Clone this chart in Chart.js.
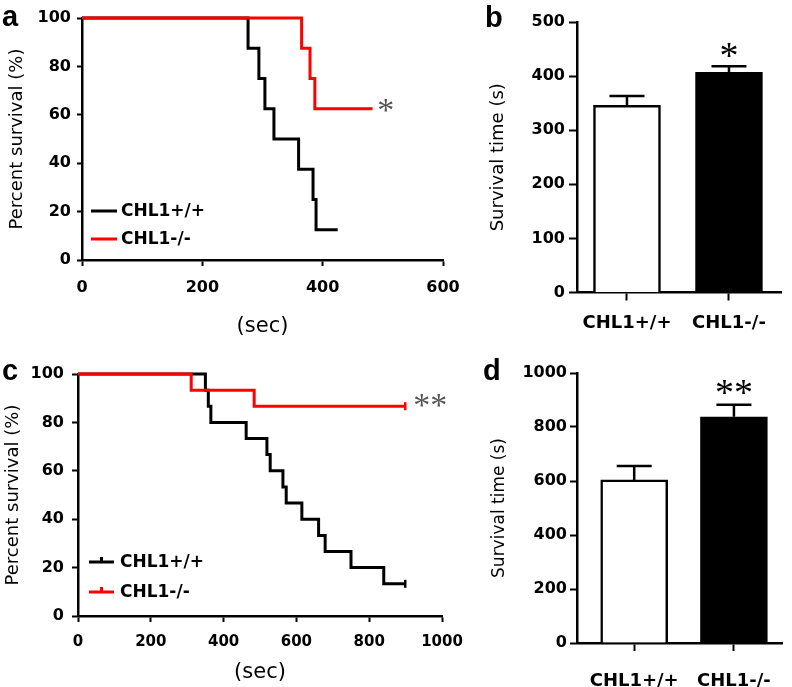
<!DOCTYPE html>
<html>
<head>
<meta charset="utf-8">
<script src="https://cdn.jsdelivr.net/npm/chart.js@4/dist/chart.umd.min.js"></script>
<style>
  body { margin: 0; background: #fff; }
  #wrap { position: relative; width: 792px; height: 687px; }
  .panel { position: absolute; }
</style>
</head>
<body>
<div id="wrap">
  <div class="panel" style="left:0;top:0;width:480px;height:340px"><canvas id="panelA"></canvas></div>
  <div class="panel" style="left:480px;top:0;width:312px;height:340px"><canvas id="panelB"></canvas></div>
  <div class="panel" style="left:0;top:340px;width:480px;height:347px"><canvas id="panelC"></canvas></div>
  <div class="panel" style="left:480px;top:340px;width:312px;height:347px"><canvas id="panelD"></canvas></div>
</div>
<script>
// panel a - survival curves
var aWtTimes = [0, 276, 294, 304, 319, 360, 384, 389, 425];
var aWtSurv = [100, 87.5, 75, 62.5, 50, 37.5, 25, 12.5, 12.5];
var aKoTimes = [0, 365, 379, 387, 483];
var aKoSurv = [100, 87.5, 75, 62.5, 62.5];
var aXTicks = [0, 200, 400, 600];

// panel c - survival curves
var cWtTimes = [0, 350, 358, 365, 462, 519, 528, 563, 572, 615, 661, 679, 750, 840, 899];
var cWtSurv = [100, 93.3, 86.7, 80, 73.3, 66.7, 60, 53.3, 46.7, 40, 33.3, 26.7, 20, 13.3, 13.3];
var cKoTimes = [0, 311, 484, 899];
var cKoSurv = [100, 93.3, 86.7, 86.7];
var cXTicks = [0, 200, 400, 600, 800, 1000];

var survTicks = [0, 20, 40, 60, 80, 100];

// panels b and d - mean survival time
var groups = ["CHL1+/+", "CHL1-/-"];
var bMean = [346, 407];
var bErr = [17, 11];
var bTicks = [0, 100, 200, 300, 400, 500];
var dMean = [604, 838];
var dErr = [52, 44];
var dTicks = [0, 200, 400, 600, 800, 1000];

var RED = "#ff0000";
var FONT = "DejaVu Sans";

function toXY(xs, ys) {
    return xs.map((x, i) => ({ x: x, y: ys[i] }));
}

function tickList(list) {
    return function (scale) {
        scale.ticks = list.map(v => ({ value: v }));
    };
}

// letters, stars, legend and error bars drawn on top
var extras = {
    id: "extras",
    afterDraw(chart, args, o) {
        var c = chart.ctx;
        c.save();
        c.fillStyle = "#000";
        c.textAlign = "left";
        c.textBaseline = "alphabetic";
        c.font = "bold 29px 'Liberation Sans'";
        c.fillText(o.letter, o.letterX, o.letterY);

        var xs = chart.scales.x, ys = chart.scales.y;

        if (o.errors) {
            c.strokeStyle = "#000";
            c.lineWidth = 2.5;
            o.errors.mean.forEach((m, i) => {
                var px = xs.getPixelForValue(i + 1);
                var top = ys.getPixelForValue(m);
                var e = ys.getPixelForValue(m + o.errors.err[i]);
                c.beginPath();
                c.moveTo(px, top);
                c.lineTo(px, e);
                c.moveTo(px - 17.5, e);
                c.lineTo(px + 17.5, e);
                c.stroke();
            });
        }

        if (o.legend) {
            o.legend.items.forEach((it, i) => {
                var y = o.legend.y[i];
                c.strokeStyle = it.color;
                c.lineWidth = 3;
                c.beginPath();
                c.moveTo(o.legend.x0, y);
                c.lineTo(o.legend.x1, y);
                if (o.legend.tick) {
                    var mid = (o.legend.x0 + o.legend.x1) / 2;
                    c.moveTo(mid, y);
                    c.lineTo(mid, y - 5);
                }
                c.stroke();
                c.fillStyle = "#000";
                c.font = "bold 17px '" + FONT + "'";
                c.textBaseline = "middle";
                c.fillText(it.label, o.legend.tx, y + 1);
            });
        }

        if (o.stars) {
            var s = o.stars;
            c.fillStyle = s.color;
            c.font = s.size + "px 'Liberation Serif'";
            c.textAlign = "center";
            c.textBaseline = "alphabetic";
            var m = c.measureText(s.text);
            var cx = xs.getPixelForValue(s.x);
            var cy = ys.getPixelForValue(s.y);
            c.fillText(s.text, cx, cy + (m.actualBoundingBoxAscent - m.actualBoundingBoxDescent) / 2);
        }
        c.restore();
    }
};

function axisStyle(tickLen, font, pad) {
    return {
        ticks: { color: "#000", font: font, padding: pad, autoSkip: false, maxRotation: 0, callback: v => String(v) },
        grid: { drawOnChartArea: false, drawTicks: true, tickLength: tickLen, tickWidth: 2, tickColor: "#000", offset: false },
        border: { color: "#000", width: 2.5 }
    };
}

function kmChart(id, o) {
    var x = axisStyle(6, { family: FONT, weight: "bold", size: o.xFont }, o.xPad);
    x.type = "linear";
    x.min = 0;
    x.max = o.xTicks[o.xTicks.length - 1];
    x.afterBuildTicks = tickList(o.xTicks);
    x.title = { display: true, text: "(sec)", color: "#000", font: { family: FONT, size: 21 }, padding: { top: 0, bottom: o.secPad } };
    x.afterFit = s => { s.height = o.xHeight; };

    var y = axisStyle(o.yTick, { family: FONT, weight: "bold", size: o.yFont }, o.yPad);
    y.min = 0;
    y.max = 100;
    y.afterBuildTicks = tickList(survTicks);
    y.title = { display: true, text: "Percent survival (%)", color: "#000", font: { family: FONT, size: 18 }, padding: { top: o.titlePad, bottom: 0 } };
    y.afterFit = s => { s.width = o.yWidth; };

    var lineDs = (xs, ys, col) => ({
        data: toXY(xs, ys),
        borderColor: col,
        borderWidth: 3,
        stepped: "before",
        fill: false,
        clip: false,
        pointStyle: "line",
        rotation: 90,
        pointBorderColor: col,
        pointBorderWidth: 2.5,
        pointRadius: c => (o.censor && c.dataIndex === xs.length - 1) ? 4 : 0
    });

    return new Chart(document.getElementById(id), {
        type: "line",
        data: {
            datasets: [
                lineDs(o.koT, o.koS, RED),
                lineDs(o.wtT, o.wtS, "#000")
            ]
        },
        options: {
            animation: false,
            responsive: true,
            maintainAspectRatio: false,
            layout: { padding: { top: o.top, right: o.right, left: 0, bottom: 0 } },
            scales: { x: x, y: y },
            plugins: {
                legend: { display: false },
                tooltip: { enabled: false },
                extras: o.extras
            }
        },
        plugins: [extras]
    });
}

function barChart(id, o) {
    var x = axisStyle(8, { family: FONT, weight: "bold", size: 18 }, o.xPad);
    x.type = "linear";
    x.offset = false;
    x.min = o.xMin;
    x.max = o.xMax;
    x.afterBuildTicks = tickList([1, 2]);
    x.ticks.callback = v => groups[v - 1];
    x.afterFit = s => { s.height = o.xHeight; };

    var y = axisStyle(o.yTick, { family: FONT, weight: "bold", size: 16 }, o.yPad);
    y.min = 0;
    y.max = o.yTicks[o.yTicks.length - 1];
    y.afterBuildTicks = tickList(o.yTicks);
    y.title = { display: true, text: "Survival time (s)", color: "#000", font: { family: FONT, size: o.titleSize }, padding: { top: o.titlePad, bottom: 0 } };
    y.afterFit = s => { s.width = 97; };

    return new Chart(document.getElementById(id), {
        type: "bar",
        data: {
            datasets: [{
                data: o.mean.map((v, i) => ({ x: i + 1, y: v })),
                backgroundColor: ["#ffffff", "#000000"],
                borderColor: "#000",
                borderWidth: 2.5,
                borderSkipped: "bottom",
                barThickness: 67
            }]
        },
        options: {
            animation: false,
            responsive: true,
            maintainAspectRatio: false,
            layout: { padding: { top: o.top, right: o.right, left: 0, bottom: 0 } },
            scales: { x: x, y: y },
            plugins: {
                legend: { display: false },
                tooltip: { enabled: false },
                extras: o.extras
            }
        },
        plugins: [extras]
    });
}

var kmLegend = [{ label: "CHL1+/+", color: "#000" }, { label: "CHL1-/-", color: RED }];

kmChart("panelA", {
    wtT: aWtTimes, wtS: aWtSurv, koT: aKoTimes, koS: aKoSurv,
    xTicks: aXTicks, xFont: 16, xPad: 12, xHeight: 80, secPad: 1,
    yFont: 16, yTick: 5, yPad: 6, yWidth: 82, titlePad: 7,
    top: 18, right: 37, censor: false,
    extras: {
        letter: "a", letterX: 2, letterY: 26,
        legend: { items: kmLegend, y: [211, 239], x0: 91, x1: 117, tx: 121, tick: false },
        stars: { text: "*", x: 505, y: 64, size: 34, color: "#555" }
    }
});

kmChart("panelC", {
    wtT: cWtTimes, wtS: cWtSurv, koT: cKoTimes, koS: cKoSurv,
    xTicks: cXTicks, xFont: 15, xPad: 11, xHeight: 71, secPad: 2,
    yFont: 16, yTick: 6, yPad: 8, yWidth: 78, titlePad: 3,
    top: 34, right: 38, censor: true,
    extras: {
        letter: "c", letterX: 2, letterY: 40,
        legend: { items: kmLegend, y: [222, 252], x0: 89, x1: 114, tx: 120, tick: true },
        stars: { text: "**", x: 968, y: 89, size: 34, color: "#555" }
    }
});

barChart("panelB", {
    mean: bMean, yTicks: bTicks, xMin: 0.51, xMax: 2.51,
    xPad: 12, xHeight: 47.5, yTick: 8, yPad: 4, titleSize: 18, titlePad: 8,
    top: 22, right: 11,
    extras: {
        letter: "b", letterX: 5, letterY: 27,
        errors: { mean: bMean, err: bErr },
        stars: { text: "*", x: 2, y: 448, size: 38, color: "#000" }
    }
});

barChart("panelD", {
    mean: dMean, yTicks: dTicks, xMin: 0.4265, xMax: 2.485,
    xPad: 20, xHeight: 44, yTick: 7, yPad: 3, titleSize: 17, titlePad: 9,
    top: 33, right: 5,
    extras: {
        letter: "d", letterX: 3, letterY: 40,
        errors: { mean: dMean, err: dErr },
        stars: { text: "**", x: 2, y: 945, size: 38, color: "#000" }
    }
});
</script>
</body>
</html>
